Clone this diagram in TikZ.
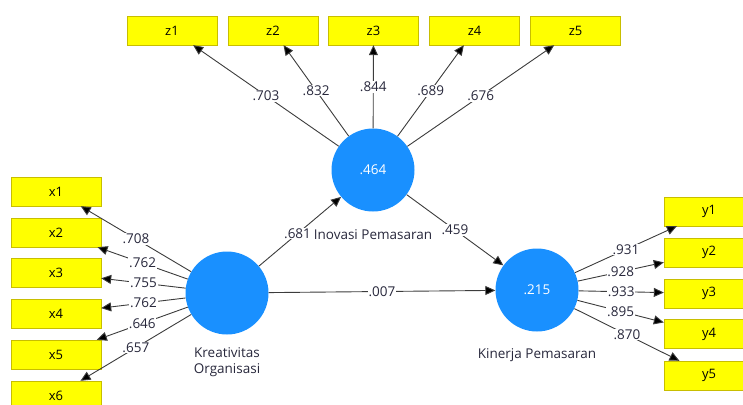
\documentclass[tikz,border=0pt]{standalone}
\usepackage{fontspec}
\setmainfont{Open Sans}
\usetikzlibrary{arrows.meta}
\definecolor{boxfill}{RGB}{255,255,0}
\definecolor{boxline}{RGB}{200,190,0}
\definecolor{latent}{RGB}{25,144,255}
\definecolor{lbl}{RGB}{40,40,60}
\definecolor{edge}{RGB}{60,60,60}
\tikzset{
  ind/.style={draw=boxline, fill=boxfill, minimum width=90pt, minimum height=29pt, inner sep=0pt, font=\fontsize{13}{16}\selectfont, text=black},
  lat/.style={circle, fill=latent, minimum size=83pt, inner sep=0pt, font=\fontsize{13.5}{16}\selectfont, text=white},
  lnk/.style={draw=edge, line width=0.9pt, -{Triangle[length=10pt,width=9pt,fill=black]}, shorten >=0pt},
  wl/.style={fill=white, inner sep=0.8pt, text=lbl, font=\fontsize{13.5}{16}\selectfont},
  captxt/.style={text=lbl, font=\fontsize{13.5}{16}\selectfont, align=center}
}
\begin{document}
\begin{tikzpicture}[x=1pt,y=-1pt]
\useasboundingbox (0,0) rectangle (743,404);
\clip (0,0) rectangle (743,404);
% latent variables
\node[lat] (K) at (227,293) {};
\node[lat] (I) at (373,170) {.464};
\node[lat] (P) at (537,290) {.215};
% indicators
\node[ind] (z1) at (172,30.5) {z1};
\node[ind] (z2) at (273,30.5) {z2};
\node[ind] (z3) at (373.5,30.5) {z3};
\node[ind] (z4) at (474.5,30.5) {z4};
\node[ind] (z5) at (575.5,30.5) {z5};
\node[ind] (x1) at (56,191.5) {x1};
\node[ind] (x2) at (56,232.5) {x2};
\node[ind] (x3) at (56,273) {x3};
\node[ind] (x4) at (56,313.5) {x4};
\node[ind] (x5) at (56,354.5) {x5};
\node[ind] (x6) at (56,395.5) {x6};
\node[ind] (y1) at (709,211.5) {y1};
\node[ind] (y2) at (709,252.5) {y2};
\node[ind] (y3) at (709,293.5) {y3};
\node[ind] (y4) at (709,334) {y4};
\node[ind] (y5) at (709,375.5) {y5};
% loadings
\draw[lnk] (I) -- node[wl]{.703} (z1);
\draw[lnk] (I) -- node[wl]{.832} (z2);
\draw[lnk] (I) -- node[wl]{.844} (z3);
\draw[lnk] (I) -- node[wl]{.689} (z4);
\draw[lnk] (I) -- node[wl]{.676} (z5);
\draw[lnk] (K) -- node[wl]{.708} (x1);
\draw[lnk] (K) -- node[wl]{.762} (x2);
\draw[lnk] (K) -- node[wl]{.755} (x3);
\draw[lnk] (K) -- node[wl]{.762} (x4);
\draw[lnk] (K) -- node[wl]{.646} (x5);
\draw[lnk] (K) -- node[wl]{.657} (x6);
\draw[lnk] (P) -- node[wl]{.931} (y1);
\draw[lnk] (P) -- node[wl]{.928} (y2);
\draw[lnk] (P) -- node[wl]{.933} (y3);
\draw[lnk] (P) -- node[wl]{.895} (y4);
\draw[lnk] (P) -- node[wl]{.870} (y5);
% structural paths
\draw[lnk] (K) -- node[wl, pos=0.47]{.681} (I);
\draw[lnk] (I) -- node[wl]{.459} (P);
\draw[lnk] (K) -- node[wl]{.007} (P);
% captions
\node[captxt, anchor=north] (Kc) at (227,344) {Kreativitas\\[0pt]Organisasi};
\node[captxt] (Ic) at (373,235) {Inovasi Pemasaran};
\node[captxt] (Pc) at (537,355) {Kinerja Pemasaran};
\end{tikzpicture}
\end{document}
